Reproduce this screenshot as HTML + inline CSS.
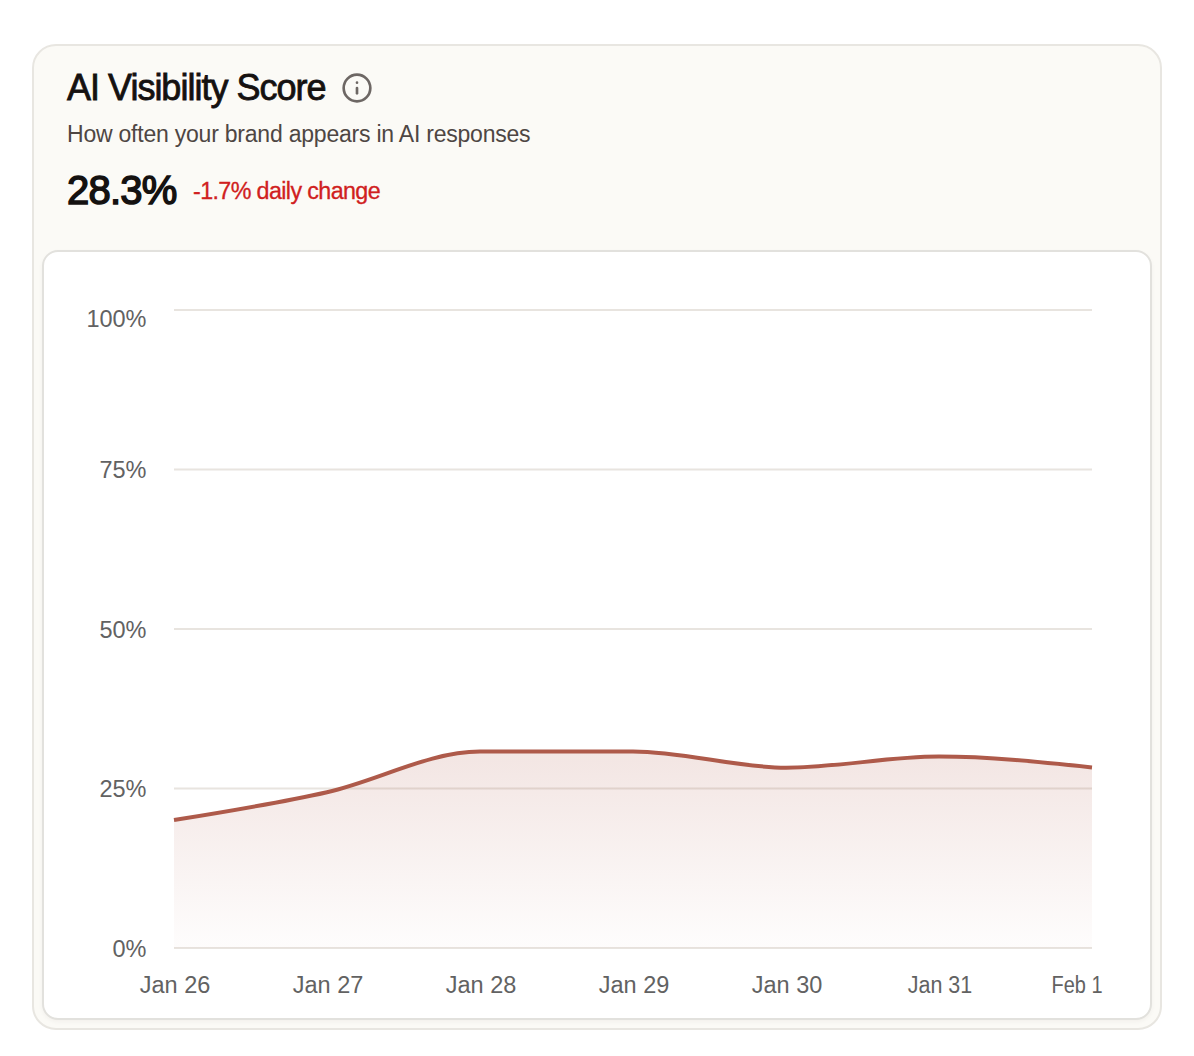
<!DOCTYPE html>
<html><head><meta charset="utf-8"><style>
html,body{margin:0;padding:0;background:#ffffff;width:1194px;height:1056px;overflow:hidden;}
body{position:relative;font-family:"Liberation Sans",sans-serif;}
.card{position:absolute;left:32px;top:44px;width:1126px;height:982px;border:2px solid #e8e6e1;border-radius:24px;background:#fbfaf6;}
.inner{position:absolute;left:42px;top:250px;width:1106px;height:766px;border:2px solid #e2e1dd;border-radius:16px;background:#ffffff;box-shadow:0 2px 4px rgba(40,30,20,0.04);}
.t{position:absolute;white-space:nowrap;line-height:1;}
.title{left:67px;top:70px;font-size:36px;font-weight:400;-webkit-text-stroke:0.8px #151110;color:#151110;letter-spacing:-1.0px;}
.sub{left:67px;top:122.8px;font-size:23px;color:#4e4643;letter-spacing:-0.22px;}
.big{left:67px;top:169.5px;font-size:40px;font-weight:400;-webkit-text-stroke:1.5px #141110;color:#141110;letter-spacing:-0.75px;}
.chg{left:193px;top:179.5px;font-size:23.3px;color:#d02020;letter-spacing:-0.62px;-webkit-text-stroke:0.3px #d02020;}
svg{position:absolute;left:0;top:0;}
</style></head><body>
<div class="card"></div>
<div class="t title">AI Visibility Score</div>
<svg width="1194" height="1056">
<g transform="translate(341,72) scale(1.3333)" fill="none" stroke="#6d6764" stroke-width="2" stroke-linecap="round" stroke-linejoin="round">
<circle cx="12" cy="12" r="10"/><path d="M12 16v-4"/><path d="M12 8h.01"/>
</g>
</svg>
<div class="t sub">How often your brand appears in AI responses</div>
<div class="t big">28.3%</div>
<div class="t chg">-1.7% daily change</div>
<div class="inner"></div>
<svg width="1194" height="1056">
<defs><linearGradient id="g" x1="0" y1="0" x2="0" y2="1">
<stop offset="5%" stop-color="#b05a4a" stop-opacity="0.15"/>
<stop offset="95%" stop-color="#b05a4a" stop-opacity="0.02"/>
</linearGradient></defs>
<g stroke="#e8e4df" stroke-width="2">
<line x1="174" y1="310" x2="1092" y2="310"/>
<line x1="174" y1="469.5" x2="1092" y2="469.5"/>
<line x1="174" y1="629" x2="1092" y2="629"/>
<line x1="174" y1="788.5" x2="1092" y2="788.5"/>
<line x1="174" y1="948" x2="1092" y2="948"/>
</g>
<path d="M174.00,820.02C225.00,811.82,276.00,803.62,327.00,792.20C378.00,780.78,429.00,751.50,480.00,751.50C531.00,751.50,582.00,751.50,633.00,751.50C684.00,751.50,735.00,767.64,786.00,767.64C837.00,767.64,888.00,756.60,939.00,756.60C990.00,756.60,1041.00,762.02,1092.00,767.45L1092,948L174,948Z" fill="url(#g)" stroke="none"/>
<path d="M174.00,820.02C225.00,811.82,276.00,803.62,327.00,792.20C378.00,780.78,429.00,751.50,480.00,751.50C531.00,751.50,582.00,751.50,633.00,751.50C684.00,751.50,735.00,767.64,786.00,767.64C837.00,767.64,888.00,756.60,939.00,756.60C990.00,756.60,1041.00,762.02,1092.00,767.45" fill="none" stroke="#ae5a4a" stroke-width="4"/>
<g font-family="Liberation Sans" font-size="23.5" fill="#626262" text-anchor="end">
<text x="146.5" y="327">100%</text>
<text x="146.5" y="478.0">75%</text>
<text x="146.5" y="637.5">50%</text>
<text x="146.5" y="797.0">25%</text>
<text x="146.5" y="956.5">0%</text>
</g>
<g font-family="Liberation Sans" font-size="23.5" fill="#626262" text-anchor="middle">
<text x="175" y="993">Jan 26</text>
<text x="328" y="993">Jan 27</text>
<text x="481" y="993">Jan 28</text>
<text x="634" y="993">Jan 29</text>
<text x="787" y="993">Jan 30</text>
<text x="940" y="993" textLength="64.5" lengthAdjust="spacingAndGlyphs">Jan 31</text>
<text x="1077" y="993" textLength="51" lengthAdjust="spacingAndGlyphs">Feb 1</text>
</g>
</svg>
</body></html>
